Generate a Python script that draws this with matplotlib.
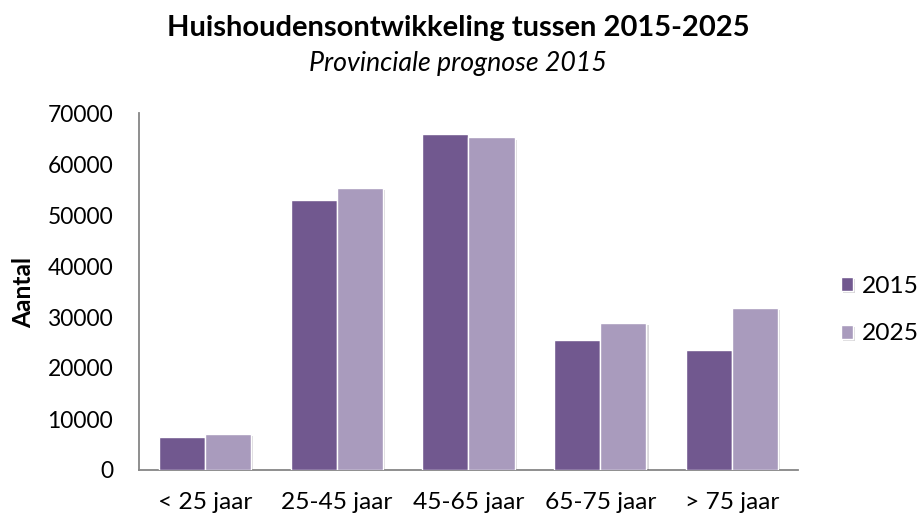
import matplotlib
matplotlib.use("Agg")
import matplotlib.pyplot as plt
import matplotlib.patheffects as pe
import numpy as np

# Data
categories = ['< 25 jaar', '25-45 jaar', '45-65 jaar', '65-75 jaar', '> 75 jaar']
series_names = ['2015', '2025']
values_2015 = [6400, 52900, 65800, 25500, 23600]
values_2025 = [7000, 55300, 65200, 28900, 31700]
yticks = [0, 10000, 20000, 30000, 40000, 50000, 60000, 70000]

colors = ('#71588F', '#A99BBD')
W, H = 917, 515

plt.rcParams['font.family'] = ['Lato', 'DejaVu Sans']

fig = plt.figure(figsize=(W / 100, H / 100), dpi=100)
ax = fig.add_axes([139 / W, 1 - 470 / H, (798 - 139) / W, (470 - 113) / H])

x = np.arange(len(categories))
w = 0.35
shadow = [pe.SimplePatchShadow(offset=(1.5, -1.5), alpha=0.18), pe.Normal()]
b1 = ax.bar(x - w/2, values_2015, w, color=colors[0], edgecolor='white', linewidth=1, label=series_names[0], zorder=3)
b2 = ax.bar(x + w/2, values_2025, w, color=colors[1], edgecolor='white', linewidth=1, label=series_names[1], zorder=3)
for p in list(b1) + list(b2):
	p.set_path_effects(shadow)

ax.set_xlim(-0.5, len(categories) - 0.5)
ax.set_ylim(0, 70000)
ax.set_yticks(yticks)
ax.set_yticklabels([str(t) for t in yticks])
ax.set_xticks(x)
ax.set_xticklabels(categories)
ax.tick_params(axis='both', length=0, labelsize=17, colors='black')
ax.tick_params(axis='y', pad=18.5)
ax.tick_params(axis='x', pad=16)

for s in ['top', 'right']:
	ax.spines[s].set_visible(False)
for s in ['left', 'bottom']:
	ax.spines[s].set_color('#868686')
	ax.spines[s].set_linewidth(1.3)

ylab = fig.text(24 / W, 1 - 292 / H, 'Aantal', rotation=90, ha='center', va='center',
				fontsize=17, fontweight='bold')

title = fig.text(458 / W, 1 - 28 / H, 'Huishoudensontwikkeling tussen 2015-2025', ha='center', va='center',
				 fontsize=20, fontweight='bold')
subtitle = fig.text(458 / W, 1 - 63 / H, 'Provinciale prognose 2015', ha='center', va='center',
					fontsize=17, style='italic')

# fit text sizes to the widths measured on the reference
fig.canvas.draw()
r = fig.canvas.get_renderer()

def fit(t, target, vertical=False):
	bb = t.get_window_extent(r)
	size = bb.height if vertical else bb.width
	t.set_fontsize(t.get_fontsize() * target / size)

fit(title, 583)
fit(subtitle, 298)
fit(ylab, 71, vertical=True)
ylbl = ax.get_yticklabels()[-1]
ysize = 17 * 66 / ylbl.get_window_extent(r).width
xlbl = ax.get_xticklabels()[0]
xsize = 17 * 94 / xlbl.get_window_extent(r).width
ax.tick_params(axis='y', labelsize=ysize)
ax.tick_params(axis='x', labelsize=xsize)

leg_size = xsize
ax.legend(loc='center left', bbox_to_anchor=(841 / W, 1 - 310 / H), bbox_transform=fig.transFigure,
		  frameon=False, fontsize=leg_size, borderaxespad=0, borderpad=0,
		  handlelength=0.5, handleheight=0.5, handletextpad=0.35, labelspacing=1.1)

fig.savefig('out.png', dpi=100)
